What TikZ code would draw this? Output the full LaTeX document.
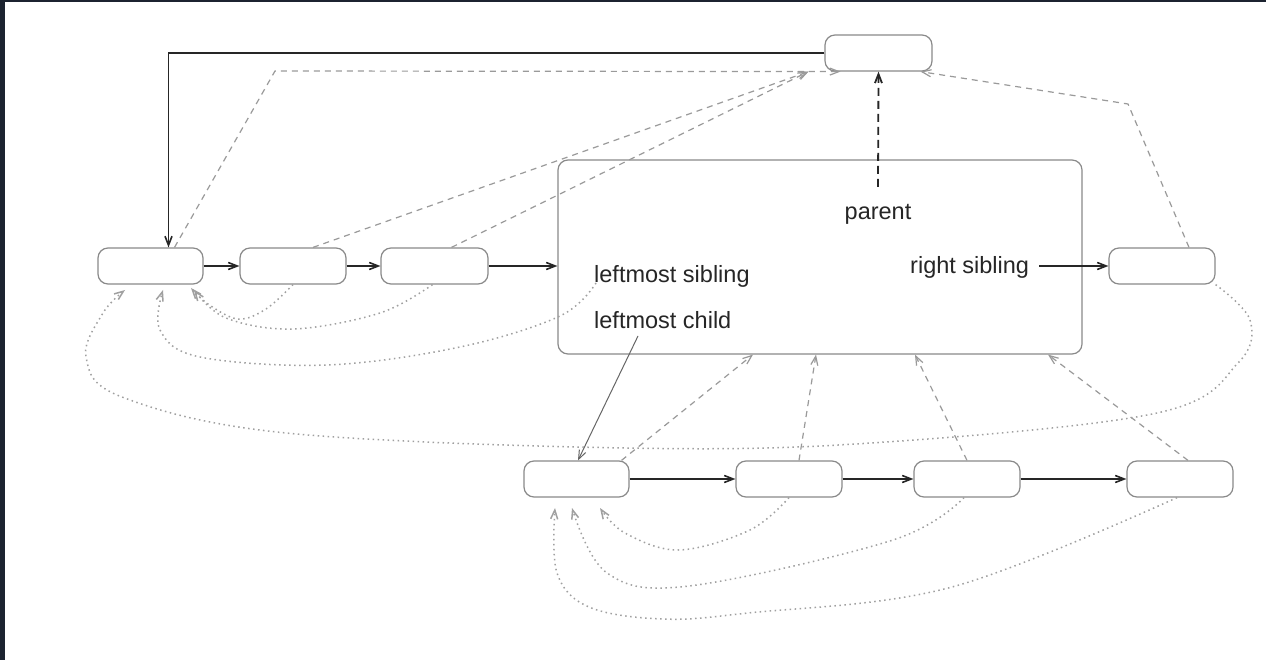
\documentclass[tikz,border=0pt]{standalone}
\usepackage{fontspec}
\setmainfont{Liberation Sans}
\usetikzlibrary{arrows.meta}
\definecolor{frame}{HTML}{1C2330}
\definecolor{boxc}{HTML}{8A8A8A}
\definecolor{dashc}{HTML}{9A9A9A}
\definecolor{dotc}{HTML}{A0A0A0}
\begin{document}
\begin{tikzpicture}[x=1pt,y=-1pt,
  box/.style={draw=boxc,line width=1.2pt,rounded corners=10pt,minimum height=36pt,inner sep=0pt},
  lbl/.style={font=\fontsize{23.5}{27}\selectfont,inner sep=0pt,text=black!85},
  tip/.style={-{Straight Barb[length=9pt,width=7pt]}},
  solidarr/.style={tip,draw=black!85,line width=1.6pt},
  thinarr/.style={tip,draw=black!60,line width=1pt},
  dasharr/.style={tip,draw=dashc,line width=1.2pt,dash pattern=on 6pt off 5pt},
  parentarr/.style={tip,draw=black!85,line width=1.8pt,dash pattern=on 8pt off 5pt},
  dotarr/.style={tip,draw=dotc,line width=1.5pt,dash pattern=on 1.5pt off 3.5pt}]
\useasboundingbox (0,0) rectangle (1266,660);
\fill[frame] (0,0) rectangle (1266,660);
\fill[white] (5,2) rectangle (1266,660);
% nodes
\node[box,minimum width=107pt] (P) at (878.5,53) {};
\node[box,minimum width=105pt] (L1) at (150.5,266) {};
\node[box,minimum width=106pt] (L2) at (293,266) {};
\node[box,minimum width=107pt] (L3) at (434.5,266) {};
\node[box,minimum width=524pt,minimum height=194pt] (B) at (820,257) {};
\node[box,minimum width=106pt] (R) at (1162,266) {};
\node[box,minimum width=105pt] (C1) at (576.5,479) {};
\node[box,minimum width=106pt] (C2) at (789,479) {};
\node[box,minimum width=106pt] (C3) at (967,479) {};
\node[box,minimum width=106pt] (C4) at (1180,479) {};
% labels
\node[lbl] (par) at (878,214) {parent};
\node[lbl,anchor=west] (rs) at (910,267) {right sibling};
\node[lbl,anchor=west] (ls) at (594,276) {leftmost sibling};
\node[lbl,anchor=west] (lc) at (594,320) {leftmost child};
\coordinate (lcs) at (638,336);
\coordinate (lss) at (596,283);
% solid arrows
\draw[solidarr] (P.west) -| ([xshift=18pt]L1.north);
\draw[solidarr] (L1.east) -- (L2.west);
\draw[solidarr] (L2.east) -- (L3.west);
\draw[solidarr] (L3.east) -- (L3.east -| B.west);
\draw[solidarr] ([xshift=10pt]rs.east |- R.west) -- (R.west);
\draw[solidarr] (C1.east) -- (C2.west);
\draw[solidarr] (C2.east) -- (C3.west);
\draw[solidarr] (C3.east) -- (C4.west);
\draw[thinarr] (lcs) -- ([xshift=1.5pt]C1.north);
% parent pointer
\draw[parentarr] ([yshift=17pt]par.north) -- (P.south);
% dashed parent links
\draw[dasharr] ([xshift=24pt]L1.north) -- (275,71) -- ([xshift=-38pt]P.south);
\draw[dasharr] ([xshift=20pt]L2.north) -- ([xshift=-70pt]P.south);
\draw[dasharr] ([xshift=17pt]L3.north) -- ([xshift=-70pt]P.south);
\draw[dasharr] ([xshift=27pt]R.north) -- (1128,104) -- ([xshift=42pt]P.south);
\draw[dasharr] ([xshift=45pt]C1.north) -- ([xshift=-67pt]B.south);
\draw[dasharr] ([xshift=10pt]C2.north) -- ([xshift=-4pt]B.south);
\draw[dasharr] (C3.north) -- ([xshift=95pt]B.south);
\draw[dasharr] ([xshift=8pt]C4.north) -- ([xshift=228pt]B.south);
% dotted leftmost-sibling links
\draw[dotarr] plot[smooth,tension=0.6] coordinates {(L2.south) (266,309) (238,319) (208,304) (191,288)};
\draw[dotarr] plot[smooth,tension=0.6] coordinates {([xshift=-2pt]L3.south) (380,313) (293,329) (226,318) (194,290)};
\draw[dotarr] plot[smooth,tension=0.6] coordinates {(lss) (560,316) (460,347) (327,365) (200,357) (160,330) (163,290)};
\draw[dotarr] plot[smooth,tension=0.6] coordinates {(R.south east) (1250,320) (1238,363) (1157,413) (871,443) (626,448) (286,433) (122,397) (86,357) (103,313) (125,290)};
\draw[dotarr] plot[smooth,tension=0.6] coordinates {(C2.south) (750,530) (679,550) (625,533) (600,508)};
\draw[dotarr] plot[smooth,tension=0.6] coordinates {([xshift=-3pt]C3.south) (893,540) (689,586) (607,573) (572,508)};
\draw[dotarr] plot[smooth,tension=0.6] coordinates {([xshift=-3pt]C4.south) (952,587) (748,613) (662,619) (589,607) (557,573) (555,508)};
\end{tikzpicture}
\end{document}
